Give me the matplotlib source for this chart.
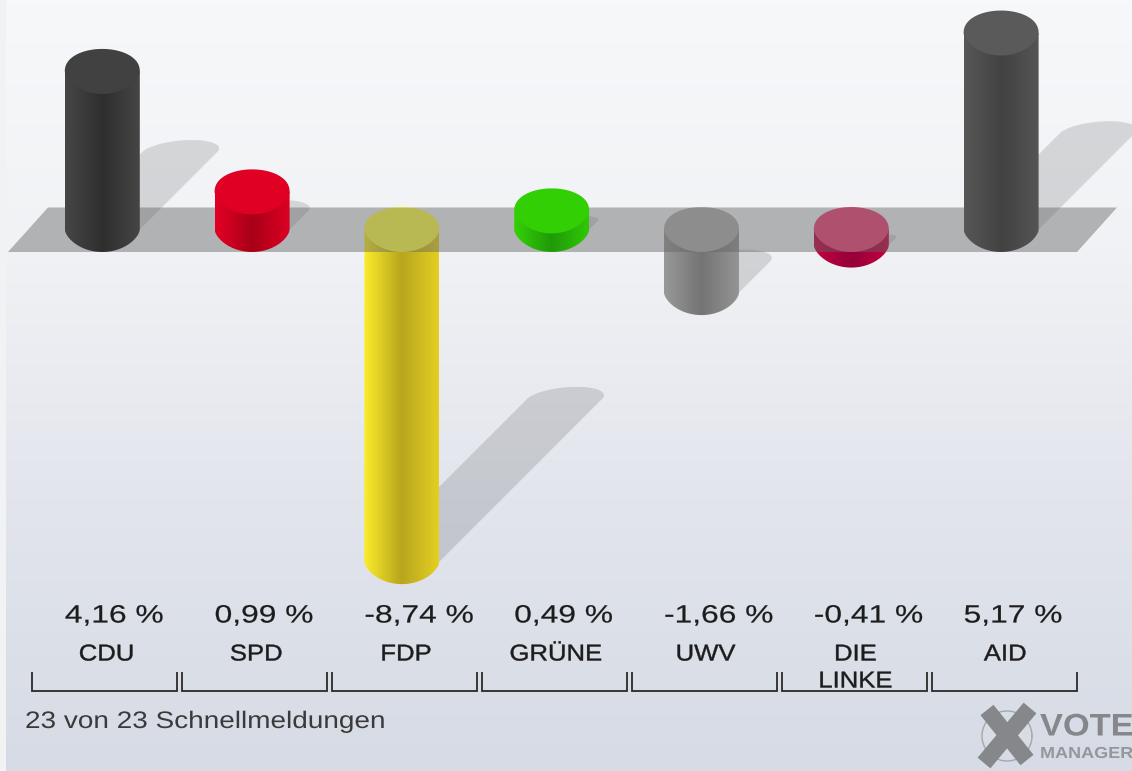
import numpy as np
import matplotlib
matplotlib.use("Agg")
import matplotlib.pyplot as plt
from matplotlib.colors import LinearSegmentedColormap
from matplotlib.patches import Polygon
from matplotlib.patheffects import AbstractPathEffect
from matplotlib.transforms import Affine2D

# ---------- data ----------
categories = ["CDU", "SPD", "FDP", "GRÜNE", "UWV", "DIE\nLINKE", "AID"]
changes = [4.16, 0.99, -8.74, 0.49, -1.66, -0.41, 5.17]
footer = "23 von 23 Schnellmeldungen"

# ---------- styles ----------
side_left = ["#464646", "#e30025", "#fbec2a", "#35d005", "#989898", "#c4003f", "#575757"]
side_mid = ["#2e2e2e", "#a80018", "#b8a51e", "#1f9a08", "#747474", "#96003a", "#424242"]
side_right = ["#464646", "#dc0022", "#e3cf22", "#30c805", "#949494", "#c4003f", "#555555"]
cap_col = ["#414141", "#e00024", "#ffff48", "#33cf05", "#b0b0b0", "#ee4078", "#5a5a5a"]

W, H = 1132, 771
X0, DX = 102.3, 149.8      # pixel x of first category, pixels per category
Y0, DY = 229.5, 38.0       # pixel y of zero, pixels per percentage point

fig = plt.figure(figsize=(W / 100, H / 100), dpi=100, facecolor="#f1f2f4")
ax = fig.add_axes([0, 0, 1, 1])


def set_limits():
    ax.set_xlim(-X0 / DX, (W - X0) / DX)
    ax.set_ylim((Y0 - H) / DY, Y0 / DY)


set_limits()
ax.axis("off")


def px(x, y):
    return (x - X0) / DX, (Y0 - y) / DY


class Widen(AbstractPathEffect):
    """Draw text glyphs stretched sideways, about their left edge or centre."""

    def __init__(self, sx, anchor="center", lw=0.0):
        super().__init__()
        self.sx, self.anchor, self.lw = sx, anchor, lw

    def draw_path(self, renderer, gc, tpath, affine, rgbFace=None):
        v = tpath.vertices
        ref = (v[:, 0].min() + v[:, 0].max()) / 2 if self.anchor == "center" else v[:, 0].min()
        tr = Affine2D().translate(-ref, 0).scale(self.sx, 1).translate(ref, 0) + affine
        gc0 = renderer.new_gc()
        gc0.copy_properties(gc)
        if self.lw > 0 and rgbFace is not None:
            gc0.set_linewidth(self.lw)
            gc0.set_foreground(rgbFace)
        renderer.draw_path(gc0, tpath, tr, rgbFace)
        gc0.restore()


HW = 37.5 / DX    # half bar width in category units
RY = 22.5 / DY    # half ellipse height in value units

# background
bg_stops = [(0.0, (247, 248, 250)), (0.32, (240, 242, 245)), (0.65, (226, 229, 236)), (1.0, (214, 219, 229))]
bgcm = LinearSegmentedColormap.from_list("bg", [(p, tuple(c / 255 for c in col)) for p, col in bg_stops])
x0, y0 = px(6, 0)
x1, y1 = px(W, H)
ax.imshow(np.linspace(0, 1, 256)[:, None], cmap=bgcm, extent=(x0, x1, y1, y0),
          aspect="auto", zorder=0, interpolation="bilinear")
set_limits()

t = np.linspace(0, np.pi, 60)


def shadow(i, v):
    """Shadow thrown up and to the right from the far end of the bar."""
    end = min(v, 0)
    s = 0.49 * abs(v) * DY
    cx, cy = X0 + DX * i, Y0 - end * DY
    ex, ey = cx + s, cy - s
    rise = min(12, s * 0.6)
    ax_, ay_ = ex + 37.5 * np.cos(t) + rise * np.sin(t), ey - rise * np.sin(t)
    xs = np.r_[cx + 37.5, ax_, cx - 37.5]
    ys = np.r_[cy, ay_, cy]
    dx, dy = px(xs, ys)
    ax.add_patch(Polygon(np.c_[dx, dy], closed=True, fc="black", ec="none", alpha=0.125, zorder=1))


def bar(i, v, z):
    hi, lo = max(v, 0), min(v, 0)
    # body: straight sides and a slightly pointed lower end
    bx = np.r_[i + HW, i + HW * np.cos(t), i - HW]
    by = np.r_[hi, lo - RY * np.sin(t) ** 1.25, hi]
    poly = Polygon(np.c_[bx, by], closed=True, fc="none", ec="none", transform=ax.transData)
    ax.add_patch(poly)
    cm = LinearSegmentedColormap.from_list("s", [side_left[i], side_mid[i], side_right[i]])
    im = ax.imshow(np.linspace(0, 1, 64)[None, :], cmap=cm,
                   extent=(i - HW, i + HW, lo - RY - 0.1, hi + 0.1),
                   aspect="auto", zorder=z, interpolation="bilinear")
    im.set_clip_path(poly)
    # top face
    cx = np.r_[i + HW * np.cos(t), i + HW * np.cos(t)[::-1]]
    cy = np.r_[hi + RY * np.sin(t) ** 0.9, hi - RY * np.sin(t)[::-1] ** 1.25]
    ax.add_patch(Polygon(np.c_[cx, cy], closed=True, fc=cap_col[i], ec="none", zorder=z + 0.1))


for i, v in enumerate(changes):
    shadow(i, v)

for i, v in enumerate(changes):
    if v < 0:
        bar(i, v, 2)

# zero plane
plane = [px(8, 252), px(48, 207.5), px(1117, 207.5), px(1077, 252)]
ax.add_patch(Polygon(plane, closed=True, fc="#646464", ec="none", alpha=0.45, zorder=3))

for i, v in enumerate(changes):
    if v >= 0:
        bar(i, v, 4)

set_limits()

# labels
val_font = dict(family="Liberation Sans", fontsize=18, color="#1c1c1c", zorder=6)
lab_font = dict(family="Liberation Sans", fontsize=16.5, color="#1c1c1c", zorder=6)
for i, (c, v) in enumerate(zip(categories, changes)):
    xl, yl = px(X0 + DX * i - 37.5, 615.5)
    ax.text(xl, yl, f"{v:.2f} %".replace(".", ","), ha="left", va="center",
            path_effects=[Widen(1.27, "left", 0.15)], **val_font)
    xc = px(X0 + DX * i + 4, 0)[0]
    for k, ln in enumerate(c.split("\n")):
        ax.text(xc, px(0, 654 + 27 * k)[1], ln, ha="center", va="center",
                path_effects=[Widen(1.12, "center", 0.3)], **lab_font)
    # bracket
    bx0 = px(32 + 150 * i, 0)[0]
    bx1 = px(177 + 150 * i, 0)[0]
    ya, yb = px(0, 672)[1], px(0, 691)[1]
    ax.plot([bx0, bx0, bx1, bx1], [ya, yb, yb, ya], color="#2a2a2a", lw=1.3, zorder=6,
            solid_joinstyle="miter", solid_capstyle="butt")

xf, yf = px(25, 722)
ax.text(xf, yf, footer, ha="left", va="center", family="Liberation Sans", fontsize=17.2,
        color="#3a3a3a", zorder=6, path_effects=[Widen(1.17, "left")])

# logo
c = [px(1007 + 25 * np.cos(a), 736 + 25 * np.sin(a)) for a in np.linspace(0, 2 * np.pi, 80)]
ax.plot(*zip(*c), color="#a5a7ac", lw=1.0, zorder=6)
ax.plot(*zip(px(987, 710), px(1027, 760)), color="#85878a", lw=12, zorder=7, solid_capstyle="butt")
ax.plot(*zip(px(1030, 708), px(984, 763)), color="#85878a", lw=12, zorder=7, solid_capstyle="butt")
xv, yv = px(1040, 735.5)
ax.text(xv, yv, "VOTE", ha="left", va="baseline", family="Liberation Sans", fontweight="bold",
        fontsize=22.5, color="#85878a", zorder=7, path_effects=[Widen(1.1, "left")])
xm, ym = px(1040, 758)
ax.text(xm, ym, "MANAGER", ha="left", va="baseline", family="Liberation Sans", fontweight="bold",
        fontsize=11.5, color="#95979b", zorder=7, path_effects=[Widen(1.13, "left")])

fig.savefig("out.png", dpi=100, facecolor=fig.get_facecolor())
